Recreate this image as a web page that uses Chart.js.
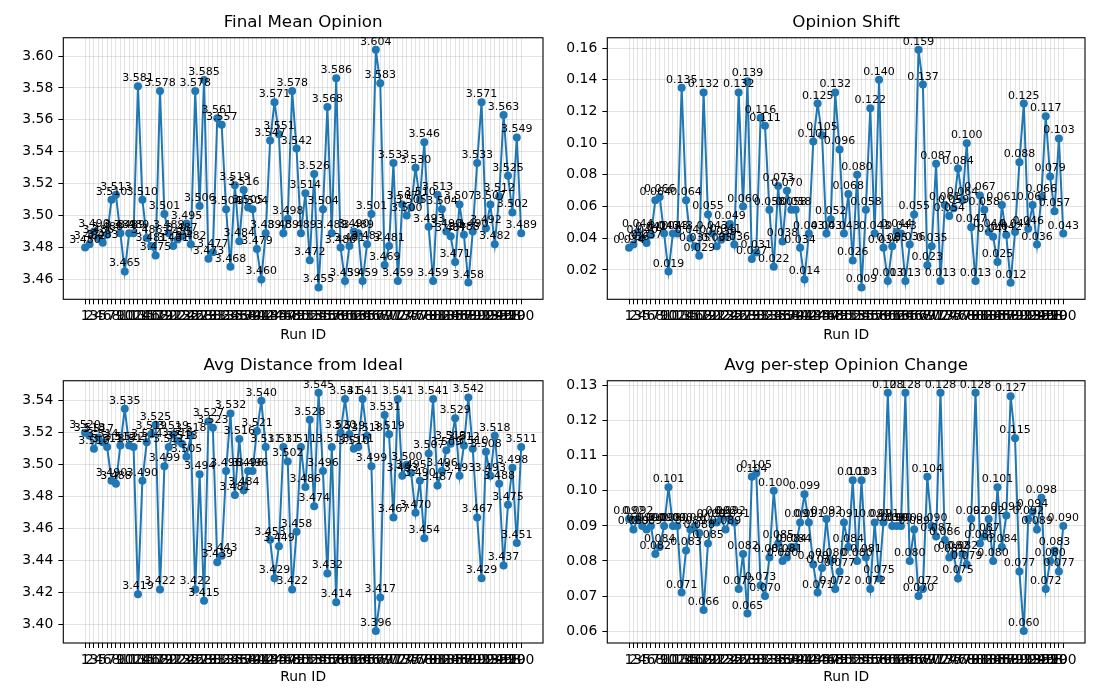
<!DOCTYPE html>
<html>
<head>
<meta charset="utf-8">
<script src="https://cdn.jsdelivr.net/npm/chart.js@4.4.1/dist/chart.umd.min.js"></script>
<style>
html, body { margin: 0; padding: 0; background: #fff; }
#wrap { position: relative; width: 1100px; height: 700px; }
canvas { position: absolute; }
</style>
</head>
<body>
<div id="wrap">
  <canvas id="c1" width="550" height="350" style="left:0;top:0"></canvas>
  <canvas id="c2" width="550" height="350" style="left:550px;top:0"></canvas>
  <canvas id="c3" width="550" height="350" style="left:0;top:350px"></canvas>
  <canvas id="c4" width="550" height="350" style="left:550px;top:350px"></canvas>
</div>
<script>
var runIds = [1,2,3,4,5,6,7,8,9,10,11,12,13,14,15,16,17,18,19,20,
  21,22,23,24,25,26,27,28,29,30,31,32,33,34,35,36,37,38,39,40,
  41,42,43,44,45,46,47,48,49,50,51,52,53,54,55,56,57,58,59,60,
  61,62,63,64,65,66,67,68,69,70,71,72,73,74,75,76,77,78,79,80,
  81,82,83,84,85,86,87,88,89,90,91,92,93,94,95,96,97,98,99,100];

var finalMean = [3.480,3.482,3.490,3.486,3.483,3.488,3.510,3.513,3.489,3.465,
  3.489,3.489,3.581,3.510,3.486,3.481,3.475,3.578,3.501,3.489,
  3.481,3.485,3.487,3.495,3.482,3.578,3.506,3.585,3.473,3.477,
  3.561,3.557,3.504,3.468,3.519,3.484,3.516,3.505,3.504,3.479,
  3.460,3.489,3.547,3.571,3.551,3.489,3.498,3.578,3.542,3.489,
  3.514,3.472,3.526,3.455,3.504,3.568,3.489,3.586,3.480,3.459,
  3.481,3.490,3.489,3.459,3.482,3.501,3.604,3.583,3.469,3.481,
  3.533,3.459,3.507,3.500,3.505,3.530,3.510,3.546,3.493,3.459,
  3.513,3.504,3.490,3.487,3.471,3.507,3.488,3.458,3.490,3.533,
  3.571,3.492,3.507,3.482,3.512,3.563,3.525,3.502,3.549,3.489];

var opinionShift = [0.034,0.036,0.044,0.040,0.037,0.042,0.064,0.066,0.043,0.019,
  0.043,0.043,0.135,0.064,0.040,0.035,0.029,0.132,0.055,0.043,
  0.035,0.039,0.041,0.049,0.036,0.132,0.060,0.139,0.027,0.031,
  0.116,0.111,0.058,0.022,0.073,0.038,0.070,0.058,0.058,0.034,
  0.014,0.043,0.101,0.125,0.105,0.043,0.052,0.132,0.096,0.043,
  0.068,0.026,0.080,0.009,0.058,0.122,0.043,0.140,0.034,0.013,
  0.035,0.044,0.043,0.013,0.036,0.055,0.159,0.137,0.023,0.035,
  0.087,0.013,0.061,0.054,0.059,0.084,0.064,0.100,0.047,0.013,
  0.067,0.058,0.044,0.041,0.025,0.061,0.042,0.012,0.044,0.088,
  0.125,0.046,0.061,0.036,0.066,0.117,0.079,0.057,0.103,0.043];

var avgDistance = [3.520,3.518,3.510,3.517,3.514,3.511,3.490,3.488,3.512,3.535,
  3.512,3.511,3.419,3.490,3.514,3.519,3.525,3.422,3.499,3.511,
  3.519,3.515,3.513,3.505,3.518,3.422,3.494,3.415,3.527,3.523,
  3.439,3.443,3.496,3.532,3.481,3.516,3.484,3.496,3.496,3.521,
  3.540,3.511,3.453,3.429,3.449,3.511,3.502,3.422,3.458,3.511,
  3.486,3.528,3.474,3.545,3.496,3.432,3.511,3.414,3.520,3.541,
  3.519,3.510,3.511,3.541,3.518,3.499,3.396,3.417,3.531,3.519,
  3.467,3.541,3.493,3.500,3.495,3.470,3.490,3.454,3.507,3.541,
  3.487,3.496,3.509,3.513,3.529,3.493,3.512,3.542,3.510,3.467,
  3.429,3.508,3.493,3.518,3.488,3.437,3.475,3.498,3.451,3.511];

var avgStepChange = [0.092,0.089,0.092,0.090,0.089,0.090,0.082,0.084,0.090,0.101,
  0.090,0.090,0.071,0.083,0.089,0.090,0.088,0.066,0.085,0.091,
  0.091,0.092,0.089,0.092,0.091,0.072,0.082,0.065,0.104,0.105,
  0.073,0.070,0.081,0.100,0.085,0.080,0.081,0.084,0.084,0.091,
  0.099,0.091,0.079,0.071,0.078,0.092,0.080,0.072,0.077,0.091,
  0.084,0.103,0.080,0.103,0.081,0.072,0.091,0.075,0.091,0.128,
  0.090,0.090,0.090,0.128,0.080,0.089,0.070,0.072,0.104,0.090,
  0.087,0.128,0.086,0.081,0.082,0.075,0.082,0.079,0.092,0.128,
  0.085,0.087,0.092,0.080,0.101,0.084,0.093,0.127,0.115,0.077,
  0.060,0.092,0.094,0.089,0.098,0.072,0.080,0.083,0.077,0.090];

var ticksFinal = [3.46,3.48,3.50,3.52,3.54,3.56,3.58,3.60];
var ticksShift = [0.02,0.04,0.06,0.08,0.10,0.12,0.14,0.16];
var ticksDist = [3.40,3.42,3.44,3.46,3.48,3.50,3.52,3.54];
var ticksStep = [0.06,0.07,0.08,0.09,0.10,0.11,0.12,0.13];

var FONT = '"DejaVu Sans", sans-serif';
var BLUE = '#1f77b4';
Chart.defaults.color = '#000';
Chart.defaults.font.family = FONT;

// box around the axes + value label above every point
var frameAndLabels = {
  id: 'frameAndLabels',
  afterDatasetsDraw: function(chart) {
    var ctx = chart.ctx, a = chart.chartArea;
    ctx.save();
    ctx.strokeStyle = '#000';
    ctx.lineWidth = 1.1;
    ctx.strokeRect(a.left, a.top, a.right - a.left, a.bottom - a.top);
    ctx.font = '11px ' + FONT;
    ctx.fillStyle = '#000';
    ctx.textAlign = 'center';
    ctx.textBaseline = 'alphabetic';
    var pts = chart.getDatasetMeta(0).data;
    var vals = chart.data.datasets[0].data;
    pts.forEach(function(p, i) {
      ctx.fillText(vals[i].y.toFixed(3), p.x, p.y - 5);
    });
    ctx.restore();
  }
};

function makeChart(id, title, values, yTicks, lay) {
  var lo = Math.min.apply(null, values), hi = Math.max.apply(null, values);
  var m = (hi - lo) * 0.05;
  var xm = (runIds[runIds.length - 1] - runIds[0]) * 0.05;
  return new Chart(document.getElementById(id), {
    type: 'line',
    data: {
      datasets: [{
        data: runIds.map(function(r, i) { return {x: r, y: values[i]}; }),
        borderColor: BLUE,
        backgroundColor: BLUE,
        borderWidth: 2,
        pointRadius: 4,
        pointBorderWidth: 0,
        pointBackgroundColor: BLUE,
        tension: 0
      }]
    },
    options: {
      responsive: false,
      animation: false,
      devicePixelRatio: 1,
      events: [],
      layout: { padding: { left: 0, right: lay.padRight, top: 0, bottom: 0 } },
      plugins: {
        legend: { display: false },
        tooltip: { enabled: false },
        title: {
          display: true,
          fullSize: false,
          text: title,
          color: '#000',
          font: { size: 16.7, weight: 'normal', family: FONT },
          padding: { top: lay.titleTop, bottom: 4.7 }
        }
      },
      scales: {
        x: {
          type: 'linear',
          min: runIds[0] - xm,
          max: runIds[runIds.length - 1] + xm,
          afterBuildTicks: function(s) { s.ticks = runIds.map(function(v) { return {value: v}; }); },
          afterFit: function(s) { s.height = lay.xHeight; s.paddingLeft = 0; s.paddingRight = 0; },
          ticks: {
            autoSkip: false, maxRotation: 0, minRotation: 0, padding: 4,
            color: '#000', font: { size: 13.9, family: FONT },
            callback: function(v) { return String(v); }
          },
          grid: { color: 'rgba(176,176,176,0.35)', tickColor: '#000', tickLength: 5, lineWidth: 1 },
          border: { display: false },
          title: {
            display: true, text: 'Run ID', color: '#000',
            font: { size: 13.9, family: FONT },
            padding: { top: 0, bottom: lay.xTitleBottom }
          }
        },
        y: {
          type: 'linear',
          min: lo - m,
          max: hi + m,
          afterBuildTicks: function(s) { s.ticks = yTicks.map(function(v) { return {value: v}; }); },
          afterFit: function(s) { s.width = lay.yWidth; },
          ticks: {
            padding: 5, color: '#000', font: { size: 13.9, family: FONT },
            callback: function(v) { return v.toFixed(2); }
          },
          grid: { color: 'rgba(176,176,176,0.35)', tickColor: '#000', tickLength: 5, lineWidth: 1 },
          border: { display: false }
        }
      }
    },
    plugins: [frameAndLabels]
  });
}

makeChart('c1', 'Final Mean Opinion', finalMean, ticksFinal,
  { yWidth: 63.3, padRight: 7, titleTop: 13, xHeight: 50.7, xTitleBottom: 6.7 });
makeChart('c2', 'Opinion Shift', opinionShift, ticksShift,
  { yWidth: 57.3, padRight: 15, titleTop: 13, xHeight: 50.7, xTitleBottom: 6.7 });
makeChart('c3', 'Avg Distance from Ideal', avgDistance, ticksDist,
  { yWidth: 63.3, padRight: 7, titleTop: 6, xHeight: 57, xTitleBottom: 14.6 });
makeChart('c4', 'Avg per-step Opinion Change', avgStepChange, ticksStep,
  { yWidth: 57.3, padRight: 15, titleTop: 6, xHeight: 57, xTitleBottom: 14.6 });
</script>
</body>
</html>
